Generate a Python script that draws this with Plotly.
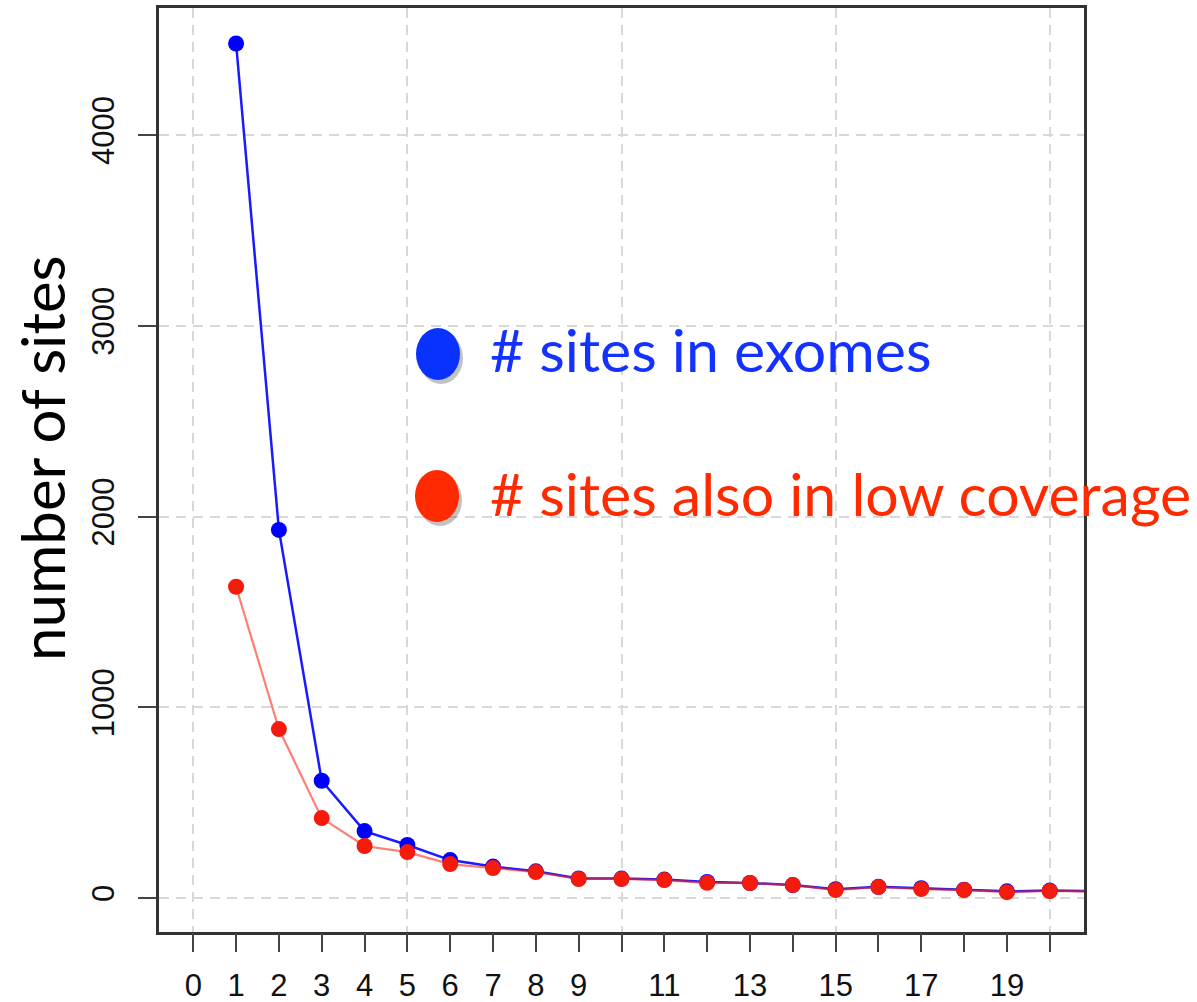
import plotly.graph_objects as go

# ---- data ----
x_vals = list(range(1, 22))
exome_sites = [4480, 1930, 615, 351, 278, 199, 165, 140, 103, 102, 97, 84, 79, 68, 46, 59, 52, 44, 35, 39, 37]
lowcov_sites = [1632, 886, 419, 273, 241, 178, 157, 136, 100, 100, 94, 80, 79, 68, 42, 58, 47, 42, 31, 37, 35]

x_tickvals = list(range(0, 21))
x_ticktext = ["0", "1", "2", "3", "4", "5", "6", "7", "8", "9", "", "11", "", "13", "", "15", "", "17", "", "19", ""]
x_gridvals = [0, 5, 10, 15, 20]
y_tickvals = [0, 1000, 2000, 3000, 4000]
y_ticktext = ["0", "1000", "2000", "3000", "4000"]

legend_labels = ["# sites in exomes", "# sites also in low coverage"]
y_title = "number of sites"

BLUE = "#0000ff"
RED = "#f41a0c"
XR = [-0.8, 20.8]
YR = [-178, 4666]

fig = go.Figure()
# empty trace so the grid/frame axis is drawn
fig.add_trace(go.Scatter(x=[None], y=[None], xaxis="x", yaxis="y", mode="markers",
                         hoverinfo="skip", showlegend=False))
fig.add_trace(go.Scatter(
    x=x_vals, y=exome_sites, xaxis="x2", yaxis="y", mode="lines+markers",
    line=dict(color="#1a1aff", width=2.5),
    marker=dict(color=BLUE, size=16), showlegend=False, cliponaxis=True))
fig.add_trace(go.Scatter(
    x=x_vals, y=lowcov_sites, xaxis="x2", yaxis="y", mode="lines+markers",
    line=dict(color="rgba(255,40,20,0.6)", width=2.2),
    marker=dict(color=RED, size=16), showlegend=False, cliponaxis=True))

tickfont = dict(family="Liberation Sans, Arial, sans-serif", size=31, color="#111")

fig.update_layout(
    width=1197, height=1002,
    margin=dict(l=159, r=113, t=8, b=70),
    paper_bgcolor="white", plot_bgcolor="white",
    xaxis=dict(range=XR, tickmode="array", tickvals=x_gridvals, showticklabels=False,
               ticks="", showgrid=True, gridcolor="#d8d8d8", gridwidth=2,
               griddash="10px,7px", zeroline=False, showline=True, mirror=True,
               linecolor="#333", linewidth=2.5, automargin=False),
    xaxis2=dict(range=XR, overlaying="x", anchor="y", side="bottom",
                tickmode="array", tickvals=x_tickvals, ticktext=x_ticktext,
                ticks="outside", ticklen=19, tickwidth=1.5, tickcolor="#444",
                showgrid=False, zeroline=False, showline=False,
                tickfont=tickfont, ticklabelstandoff=7, automargin=False),
    yaxis=dict(range=YR, tickmode="array", tickvals=y_tickvals, ticktext=y_ticktext,
               ticks="outside", ticklen=18, tickwidth=1.5, tickcolor="#444",
               tickangle=-90, showgrid=True, gridcolor="#d8d8d8", gridwidth=2,
               griddash="10px,7px", zeroline=False, showline=True, mirror=True,
               linecolor="#333", linewidth=2.5, tickfont=tickfont,
               ticklabelstandoff=12, automargin=False),
)

# legend-like overlay (ellipses with shadow + text)
def px_x(p):
    return (p - 159) / 925.0

def px_y(p):
    return (932 - p) / 924.0

markers = [(416, 460, 328, 380, "#0a32ff"), (415, 459, 470, 522, "#ff2a00")]
for (x0, x1, y0, y1, col) in markers:
    fig.add_shape(type="circle", xref="paper", yref="paper",
                  x0=px_x(x0 + 3), x1=px_x(x1 + 3), y0=px_y(y1 + 4), y1=px_y(y0 + 4),
                  fillcolor="rgba(80,80,80,0.35)", line=dict(width=0), layer="above")
    fig.add_shape(type="circle", xref="paper", yref="paper",
                  x0=px_x(x0), x1=px_x(x1), y0=px_y(y1), y1=px_y(y0),
                  fillcolor=col, line=dict(width=0), layer="above")

fig.add_annotation(text=legend_labels[0], xref="paper", yref="paper",
                   x=px_x(488), y=px_y(350), xanchor="left", yanchor="middle",
                   showarrow=False, font=dict(family="Lato, sans-serif", size=59, color="#1432ff"))
fig.add_annotation(text=legend_labels[1], xref="paper", yref="paper",
                   x=px_x(488), y=px_y(493), xanchor="left", yanchor="middle",
                   showarrow=False, font=dict(family="Lato, sans-serif", size=59, color="#ff2a00"))
fig.add_annotation(text=y_title, xref="paper", yref="paper",
                   x=px_x(42), y=px_y(458), xanchor="center", yanchor="middle",
                   textangle=-90, showarrow=False,
                   font=dict(family="Lato, sans-serif", size=60, color="#000"))

fig.write_html("out.html")
